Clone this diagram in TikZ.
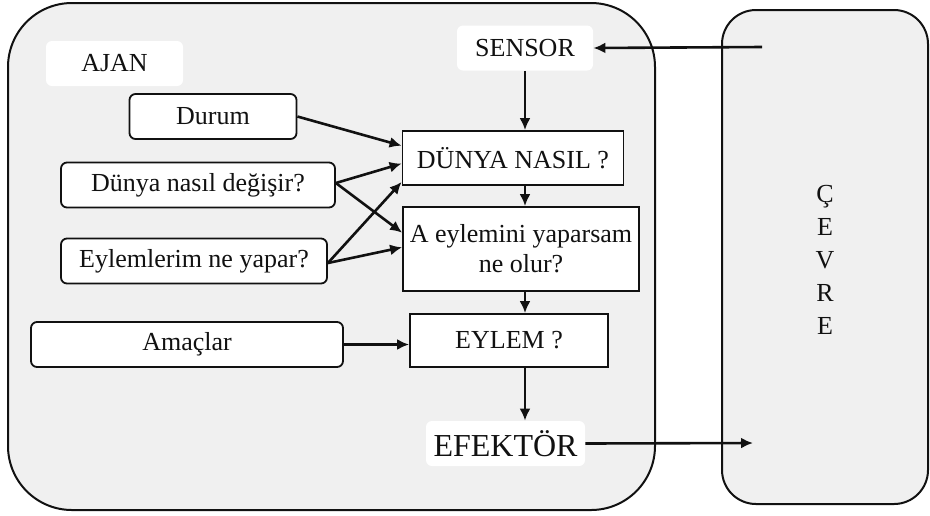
\documentclass[tikz,border=0pt]{standalone}
\usepackage{fontspec}
\setmainfont{Liberation Serif}
\usetikzlibrary{arrows.meta, positioning, calc}
\definecolor{PanelGray}{HTML}{F0F0F0}
\definecolor{InkBlack}{HTML}{111111}

\begin{document}
\begin{tikzpicture}[x=0.5pt, y=-0.5pt, >={Latex[length=6pt, width=5.5pt]},
    every node/.style={font=\fontsize{13}{15}\selectfont, color=InkBlack},
    kutu/.style={draw=InkBlack, fill=white, line width=0.9pt, rounded corners=3pt, inner sep=0pt},
    blok/.style={draw=InkBlack, fill=white, line width=0.9pt, inner sep=0pt, align=center},
    etiket/.style={fill=white, rounded corners=3pt, inner sep=0pt},
    ok/.style={->, line width=1.3pt, draw=InkBlack}]
    \useasboundingbox (0,0) rectangle (930,515);

    % Agent and environment panels
    \filldraw[fill=PanelGray, draw=InkBlack, line width=1pt, rounded corners=32pt] (8,3) rectangle (655,510);
    \filldraw[fill=PanelGray, draw=InkBlack, line width=1pt, rounded corners=17pt] (722,10) rectangle (928,504);
    \node[align=center, font=\fontsize{13}{16.5}\selectfont] (cevre) at (825,260) {Ç\\E\\V\\R\\E};

    % Labels on the agent
    \node[etiket, minimum width=68.5pt, minimum height=22.5pt] (ajan) at (114.5,63.5) {AJAN};
    \node[etiket, minimum width=68pt, minimum height=22.5pt] (sensor) at (525,48) {SENSOR};
    \node[etiket, minimum width=79.5pt, minimum height=22.5pt, font=\fontsize{16}{18}\selectfont] (efektor) at (505.5,443.5) {EFEKTÖR};

    % Knowledge boxes (left)
    \node[kutu, minimum width=83.5pt, minimum height=22.5pt] (durum) at (213,116.5) {Durum};
    \node[kutu, minimum width=137pt, minimum height=22.5pt] (degisir) at (198,185) {Dünya nasıl değişir?};
    \node[kutu, minimum width=133pt, minimum height=22.5pt] (eylemlerim) at (194,261) {Eylemlerim ne yapar?};
    \node[kutu, minimum width=156pt, minimum height=22.5pt] (amaclar) at (187,344.5) {Amaçlar};

    % Reasoning chain (centre)
    \node[blok, minimum width=110.5pt, minimum height=27pt] (dunya) at (513,158) {DÜNYA NASIL ?};
    \node[blok, minimum width=118pt, minimum height=42pt] (sonuc) at (521,249) {A eylemini yaparsam\\ne olur?};
    \node[blok, minimum width=99pt, minimum height=26.5pt] (eylem) at (509,340.5) {EYLEM ?};

    % Free ends inside the environment
    \coordinate (cgiris) at (762,47);
    \coordinate (ccikis) at (753,443);

    % Perception / action loop
    \draw[ok] (cgiris) -- (sensor.east);
    \draw[ok] (sensor.south) -- (sensor |- dunya.north);
    \draw[ok] (sensor |- dunya.south) -- (sensor |- sonuc.north);
    \draw[ok] (sensor |- sonuc.south) -- (sensor |- eylem.north);
    \draw[ok] (sensor |- eylem.south) -- (sensor |- efektor.north);
    \draw[ok] (efektor.east) -- (ccikis);

    % Inputs to the reasoning boxes
    \draw[ok] (durum.east) -- ($(dunya.north west)!0.28!(dunya.south west)$);
    \draw[ok] ([yshift=1pt]degisir.east) -- ($(dunya.north west)!0.6!(dunya.south west)$);
    \draw[ok] ([yshift=1pt]degisir.east) -- ($(sonuc.north west)!0.31!(sonuc.south west)$);
    \draw[ok] ([yshift=-1pt]eylemlerim.east) -- ($(dunya.north west)!0.93!(dunya.south west)$);
    \draw[ok] ([yshift=-1pt]eylemlerim.east) -- ($(sonuc.north west)!0.48!(sonuc.south west)$);
    \draw[ok] (amaclar.east) -- (amaclar.east -| eylem.west);
\end{tikzpicture}
\end{document}
